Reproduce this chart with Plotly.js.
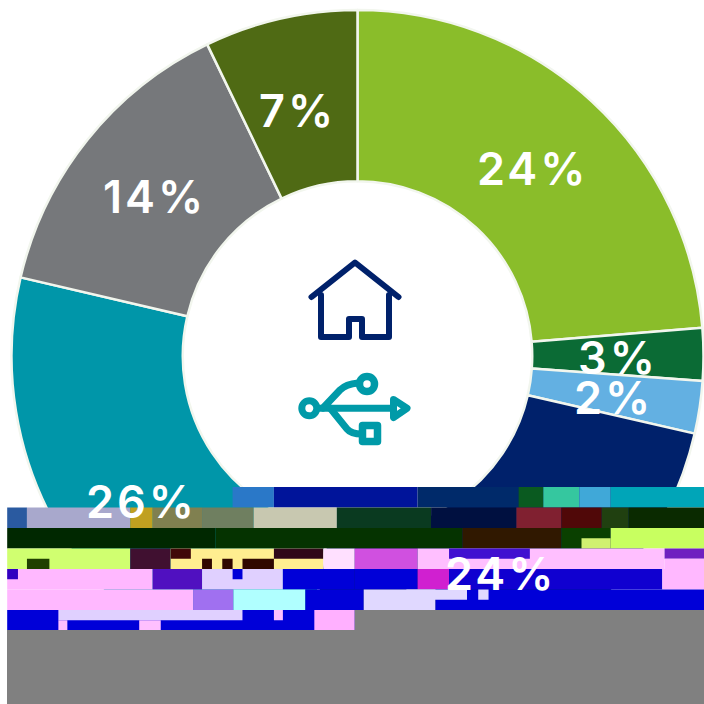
<!DOCTYPE html>
<html><head><meta charset="utf-8">
<script src="https://cdn.plot.ly/plotly-3.0.1.min.js"></script>
<style>html,body{margin:0;padding:0;background:#fff}#c{width:704px;height:704px}
.annotation-text{letter-spacing:3px}
.shapelayer path{stroke-linejoin:round;stroke-linecap:round}
</style>
</head><body><div id="c"></div>
<script>
const categories = ['Segment A','Segment B','Segment C','Segment D','Segment E','Segment F','Segment G'];
const values = [23.7,2.45,2.45,24.05,26,14.2,7.15];
const percentLabels = ['24%','3%','2%','24%','26%','14%','7%'];
const sliceColors = ['#8abd2a','#0b6b35','#63b0e2','#00216b','#0096a9','#76787b','#4f6a14'];
const labelX = [533,618,613,501,141,154,297];
const labelY = [168,357,397,573,502,197,110];

// damaged-image bands of the reference: [x0, x1, row, colour, part] (part: 0 whole, 1 top half, 2 bottom half)
const bands = [
[518,610,0,'#2a78c8'],[610,930,0,'#00149a'],[930,1155,0,'#002a6a'],[1155,1210,0,'#0a5a20'],[1210,1290,0,'#35c79f'],[1290,1360,0,'#40a8d8'],[1360,1568,0,'#00a5b8'],
[16,60,1,'#2a5aa0'],[60,290,1,'#a8a8cc'],[290,340,1,'#c0a020'],[340,450,1,'#808050'],[450,565,1,'#6f7f60'],[565,750,1,'#c8c8b0'],[750,960,1,'#0a3a20'],[960,1150,1,'#001040'],[1150,1250,1,'#802030'],[1250,1340,1,'#500808'],[1340,1400,1,'#204010'],[1400,1568,1,'#0a2a00'],
[16,480,2,'#002800'],[480,1030,2,'#053300'],[1030,1250,2,'#301800'],[1250,1360,2,'#0a4000'],[1360,1568,2,'#c8ff60'],[1295,1360,2,'#d0f070',2],
[16,290,3,'#d0ff70'],[60,110,3,'#204000',2],[290,380,3,'#401030'],[380,720,3,'#ffee90'],[380,425,3,'#400808',1],[450,472,3,'#300800',2],[495,518,3,'#300800',2],[540,610,3,'#300800',2],[610,720,3,'#300818',1],[720,790,3,'#ffe0ff'],[790,930,3,'#d050e0'],[930,1480,3,'#ffbfff'],[1000,1180,3,'#4010d0',1],[1480,1568,3,'#7020c0',1],[1480,1568,3,'#ffb8ff',2],
[16,340,4,'#ffb8ff'],[16,40,4,'#3000c0',1],[340,450,4,'#5010c0'],[450,630,4,'#e0d0ff'],[518,540,4,'#0000d8',1],[630,790,4,'#0000d8'],[790,930,4,'#0000d8'],[930,1000,4,'#d020d0'],[1000,1475,4,'#1000d0'],[1475,1568,4,'#ffb8ff'],
[16,430,5,'#ffb8ff'],[430,520,5,'#a070f0'],[520,680,5,'#b0ffff'],[680,810,5,'#0000d8'],[810,970,5,'#e0d8ff'],[970,1568,5,'#0000d8'],[905,1040,5,'#e0d8ff',1],[1065,1088,5,'#e0d8ff',1],
[16,790,6,'#0000d8'],[130,540,6,'#e0d0ff',1],[130,150,6,'#ffc0ff',2],[310,358,6,'#ffc0ff',2],[610,630,6,'#ffc0ff',1],[700,790,6,'#ffb0ff'],[790,1568,6,'#808080']
];

const W = 704, H = 704;
const fx = x => x / W, fy = y => 1 - y / H;
const BAND_TOP = 487, ROW = 20.5, ZOOM_X = 2.227;
const shapes = [];
bands.forEach(b => {
  const top = BAND_TOP + ROW * b[2], part = b[4] || 0;
  const y0 = top + (part === 2 ? ROW / 2 : 0), y1 = top + (part === 1 ? ROW / 2 : ROW);
  shapes.push({type:'rect',xref:'paper',yref:'paper',x0:fx(b[0]/ZOOM_X),x1:fx(b[1]/ZOOM_X),y0:fy(y0),y1:fy(y1),fillcolor:b[3],line:{width:0},layer:'above'});
});
shapes.push({type:'rect',xref:'paper',yref:'paper',x0:fx(7),x1:1,y0:0,y1:fy(630),fillcolor:'#808080',line:{width:0},layer:'above'});

function pathOf(cmds){ // cmds: array of strings such as 'M 10 20'; pixel coordinates go to paper fractions
  return cmds.map(c => {
    const p = c.split(' '); const out = [p[0]];
    for (let i = 1; i < p.length; i += 2) out.push(fx(+p[i]).toFixed(5) + ',' + fy(+p[i+1]).toFixed(5));
    return out.join(' ');
  }).join(' ');
}
function iconPath(cmds,color,w,fill){
  shapes.push({type:'path',xref:'paper',yref:'paper',path:pathOf(cmds),line:{color:color,width:w},fillcolor:fill||'rgba(0,0,0,0)',layer:'above'});
}
function iconCircle(cx,cy,r,color,w){
  shapes.push({type:'circle',xref:'paper',yref:'paper',x0:fx(cx-r),x1:fx(cx+r),y0:fy(cy+r),y1:fy(cy-r),line:{color:color,width:w},fillcolor:'#ffffff',layer:'above'});
}
const NAVY = '#00216b', TEAL = '#009aa8';
iconPath(['M 311.5 297','L 355 262.5','L 398.5 297'],NAVY,6);
iconPath(['M 321 295','L 321 337','L 349 337','L 349 319','L 362 319','L 362 337','L 389 337','L 389 295'],NAVY,6);
iconPath(['M 312 408.3','L 395 408.3'],TEAL,7);
iconPath(['M 323 408','L 340 390','Q 346 384 358 383'],TEAL,7);
iconPath(['M 330 408','L 347 429','Q 351 434 362 434'],TEAL,7);
iconPath(['M 393.5 399.5','L 407 408.3','L 393.5 417.5','Z'],TEAL,7,'#ffffff');
iconCircle(309.3,408.3,7.5,TEAL,7);
iconCircle(367,384,7.5,TEAL,7.5);
iconPath(['M 362.5 425.5','L 377.5 425.5','L 377.5 441.5','L 362.5 441.5','Z'],TEAL,7.5,'#ffffff');

const annotations = percentLabels.map((t,i) => ({
  text:t, xref:'paper', yref:'paper', x:fx(labelX[i]), y:fy(labelY[i]), xanchor:'center', yanchor:'middle',
  showarrow:false, font:{family:'Inter, "Open Sans", sans-serif', size:45, color:'#ffffff', weight:600}
}));

const R = 346, CX = 357.5, CY = 356;
Plotly.newPlot('c',[{
  type:'pie', labels:categories, values:values, sort:false, direction:'clockwise', rotation:0, hole:0.505,
  marker:{colors:sliceColors,line:{color:'#f2f6ee',width:2.5}}, textinfo:'none', hoverinfo:'label+percent',
  domain:{x:[fx(CX-R),fx(CX+R)],y:[fy(CY+R),fy(CY-R)]}, showlegend:false
}],{
  width:W,height:H,margin:{l:0,r:0,t:0,b:0},paper_bgcolor:'#ffffff',showlegend:false,shapes:shapes,annotations:annotations
},{displayModeBar:false});
</script></body></html>
